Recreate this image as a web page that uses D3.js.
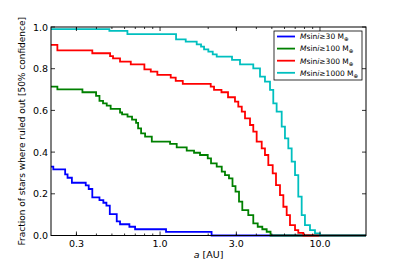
<!DOCTYPE html>
<html>
<head>
<meta charset="utf-8">
<script src="https://cdn.jsdelivr.net/npm/d3@7"></script>
<style>
  body { margin: 0; background: #fff; }
  svg { display: block; font-family: "DejaVu Sans", sans-serif; }
</style>
</head>
<body>
<svg id="chart" width="407" height="262"></svg>
<script>
// semi-major axis [AU] where each step starts, and the fraction after the step
const blueA = [0.208, 0.215, 0.255, 0.264, 0.281, 0.343, 0.358, 0.377, 0.418, 0.442, 0.462, 0.485, 0.536, 0.562, 0.643, 0.698, 1.09, 2.10];
const blueF = [0.330, 0.317, 0.293, 0.277, 0.253, 0.240, 0.223, 0.183, 0.170, 0.157, 0.143, 0.103, 0.068, 0.054, 0.042, 0.030, 0.017, 0.0];

const greenA = [0.208, 0.228, 0.327, 0.398, 0.418, 0.440, 0.464, 0.491, 0.562, 0.579, 0.626, 0.668, 0.708, 0.729, 0.761, 0.806, 0.888, 1.155, 1.271, 1.468, 1.631, 1.778, 1.987, 2.083, 2.261, 2.431, 2.547, 2.698, 2.838, 2.964, 3.117, 3.268, 3.562, 3.828, 4.080, 4.359, 4.642, 4.907];
const greenF = [0.714, 0.701, 0.687, 0.670, 0.646, 0.634, 0.623, 0.607, 0.590, 0.581, 0.570, 0.556, 0.540, 0.514, 0.490, 0.474, 0.450, 0.439, 0.423, 0.407, 0.397, 0.386, 0.370, 0.346, 0.330, 0.306, 0.290, 0.274, 0.237, 0.210, 0.162, 0.122, 0.098, 0.058, 0.042, 0.030, 0.018, 0.0];

const redA = [0.208, 0.228, 0.377, 0.487, 0.508, 0.562, 0.656, 0.798, 0.875, 0.962, 1.166, 1.253, 1.387, 2.074, 2.175, 2.421, 2.661, 2.941, 3.085, 3.243, 3.398, 3.652, 3.828, 4.019, 4.322, 4.529, 4.753, 5.063, 5.309, 5.623, 5.902, 6.192, 6.494, 6.982, 7.318, 7.866];
const redF = [0.914, 0.888, 0.874, 0.860, 0.850, 0.834, 0.821, 0.797, 0.786, 0.770, 0.757, 0.742, 0.727, 0.714, 0.698, 0.687, 0.663, 0.642, 0.618, 0.594, 0.562, 0.530, 0.498, 0.450, 0.418, 0.386, 0.338, 0.298, 0.242, 0.194, 0.138, 0.098, 0.050, 0.026, 0.013, 0.0];

const cyanA = [0.208, 0.482, 0.625, 1.259, 1.447, 1.695, 1.804, 1.884, 2.004, 2.135, 2.261, 2.818, 3.162, 3.828, 4.217, 4.529, 4.870, 5.105, 5.358, 5.763, 6.040, 6.340, 6.653, 6.982, 7.318, 7.684, 8.054, 8.660, 9.306, 10.0];
const cyanF = [0.990, 0.981, 0.966, 0.941, 0.930, 0.917, 0.906, 0.893, 0.882, 0.869, 0.858, 0.842, 0.821, 0.802, 0.762, 0.738, 0.698, 0.634, 0.594, 0.522, 0.466, 0.418, 0.354, 0.290, 0.186, 0.098, 0.050, 0.026, 0.010, 0.0];

const seriesNames = ["30", "100", "300", "1000"];
const seriesColors = ["#0000ff", "#008000", "#ff0000", "#00bfbf"];

const xTicks = [0.3, 1.0, 3.0, 10.0];
const xTickLabels = ["0.3", "1.0", "3.0", "10.0"];
const yTicks = [0.0, 0.2, 0.4, 0.6, 0.8, 1.0];

// set the dimensions and margins of the graph
const margin = { top: 27, right: 41, bottom: 26.5, left: 51 },
  width = 407 - margin.left - margin.right,
  height = 262 - margin.top - margin.bottom;

const xDomain = [0.208, 19.4];

const svg = d3.select("#chart")
  .append("g")
  .attr("transform", `translate(${margin.left},${margin.top})`);

const x = d3.scaleLog().domain(xDomain).range([0, width]);
const y = d3.scaleLinear().domain([0, 1]).range([height, 0]);

svg.append("defs").append("clipPath")
  .attr("id", "clip")
  .append("rect")
  .attr("x", 0).attr("y", -2)
  .attr("width", width).attr("height", height + 4);

const series = [
  [blueA, blueF], [greenA, greenF], [redA, redF], [cyanA, cyanF]
].map(function (s) {
  const pts = s[0].map((a, i) => ({ a: a, f: s[1][i] }));
  pts.push({ a: xDomain[1], f: s[1][s[1].length - 1] });
  return pts;
});

const line = d3.line()
  .x(d => x(d.a))
  .y(d => y(d.f))
  .curve(d3.curveStepAfter);

svg.append("g")
  .attr("clip-path", "url(#clip)")
  .selectAll("path")
  .data(series)
  .enter()
  .append("path")
  .attr("fill", "none")
  .attr("stroke", (d, i) => seriesColors[i])
  .attr("stroke-width", 1.8)
  .attr("d", line);

// minor log ticks (2..9 per decade)
const minor = [];
[0.1, 1, 10].forEach(dec => {
  for (let m = 2; m <= 9; m++) {
    const v = m * dec;
    if (v > xDomain[0] && v < xDomain[1]) minor.push(v);
  }
});

const tickG = svg.append("g").attr("stroke", "#000").attr("stroke-width", 0.8);
minor.forEach(v => {
  tickG.append("line").attr("x1", x(v)).attr("x2", x(v)).attr("y1", height).attr("y2", height - 2);
  tickG.append("line").attr("x1", x(v)).attr("x2", x(v)).attr("y1", 0).attr("y2", 2);
});
xTicks.forEach(v => {
  tickG.append("line").attr("x1", x(v)).attr("x2", x(v)).attr("y1", height).attr("y2", height - 4);
  tickG.append("line").attr("x1", x(v)).attr("x2", x(v)).attr("y1", 0).attr("y2", 4);
});
yTicks.forEach(v => {
  tickG.append("line").attr("x1", 0).attr("x2", 4).attr("y1", y(v)).attr("y2", y(v));
  tickG.append("line").attr("x1", width).attr("x2", width - 4).attr("y1", y(v)).attr("y2", y(v));
});

// frame
svg.append("rect")
  .attr("width", width).attr("height", height)
  .attr("fill", "none").attr("stroke", "#000").attr("stroke-width", 1);

// tick labels
svg.append("g").selectAll("text")
  .data(xTicks)
  .enter().append("text")
  .attr("x", d => x(d))
  .attr("y", height + 11.5)
  .attr("text-anchor", "middle")
  .attr("font-size", 9.5)
  .text((d, i) => xTickLabels[i]);

svg.append("g").selectAll("text")
  .data(yTicks)
  .enter().append("text")
  .attr("x", -3)
  .attr("y", d => y(d) + 3.5)
  .attr("text-anchor", "end")
  .attr("font-size", 9.5)
  .text(d => d.toFixed(1));

// axis labels
const xl = svg.append("text")
  .attr("x", width / 2)
  .attr("y", height + 22)
  .attr("text-anchor", "middle")
  .attr("font-size", 9.5);
xl.append("tspan").attr("font-style", "italic").text("a");
xl.append("tspan").text(" [AU]");

svg.append("text")
  .attr("transform", `translate(${-26},${height / 2}) rotate(-90)`)
  .attr("text-anchor", "middle")
  .attr("font-size", 9)
  .text("Fraction of stars where ruled out [50% confidence]");

// legend
const leg = svg.append("g").attr("transform", `translate(${274 - margin.left},${31 - margin.top})`);
leg.append("rect")
  .attr("width", 88).attr("height", 49)
  .attr("fill", "#fff").attr("stroke", "#000").attr("stroke-width", 0.8);

seriesNames.forEach((n, i) => {
  const ry = 5.5 + i * 12.1;
  leg.append("line")
    .attr("x1", 3).attr("x2", 21)
    .attr("y1", ry).attr("y2", ry)
    .attr("stroke", seriesColors[i]).attr("stroke-width", 1.8);
  const t = leg.append("text")
    .attr("x", 26).attr("y", ry + 2.8)
    .attr("font-size", 7.5);
  t.append("tspan").attr("font-style", "italic").text("M");
  t.append("tspan").text("sin");
  t.append("tspan").attr("font-style", "italic").text("i");
  t.append("tspan").text("\u2265" + n + " M");
  t.append("tspan").attr("font-size", 5.5).attr("dy", 2).text("\u2295");
});
</script>
</body>
</html>
